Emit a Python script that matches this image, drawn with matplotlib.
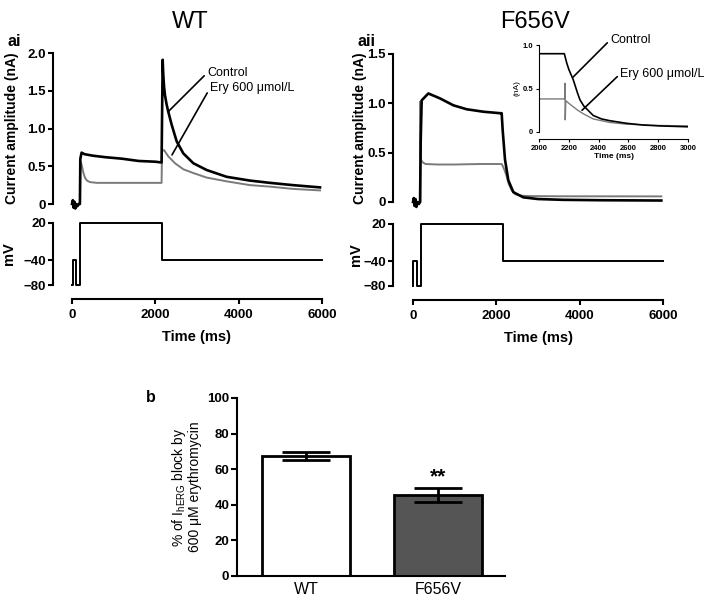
import matplotlib
matplotlib.use('Agg')
import matplotlib.pyplot as plt

plt.rcParams['font.family'] = ['Liberation Sans', 'DejaVu Sans']
plt.rcParams['axes.unicode_minus'] = True

# ---- data ----
# WT traces (time ms, current nA)
wt_ctrl_t = [0, 20, 40, 60, 80, 100, 130, 160, 190, 200, 230, 300, 500, 800, 1200, 1600, 2000, 2150,
             2176, 2190, 2210, 2232, 2270, 2312, 2392, 2512, 2672, 2912, 3232, 3712, 4272, 4752, 5300, 5952]
wt_ctrl_i = [0, 0.05, -0.05, 0.03, -0.06, 0.0, -0.03, 0, 0, 0.60, 0.68, 0.66, 0.64, 0.62, 0.60, 0.57, 0.56,
             0.55, 1.91, 1.72, 1.55, 1.44, 1.32, 1.22, 1.05, 0.83, 0.67, 0.54, 0.45, 0.36, 0.31, 0.28, 0.25,
             0.22]
wt_ery_t = [190, 200, 215, 240, 270, 310, 360, 430, 600, 1000, 1600, 2150, 2160, 2208, 2312, 2472, 2672,
            2912, 3232, 3712, 4272, 4752, 5300, 5952]
wt_ery_i = [0, 0.45, 0.55, 0.50, 0.42, 0.35, 0.31, 0.29, 0.28, 0.28, 0.28, 0.28, 0.70, 0.715, 0.63, 0.54,
            0.46, 0.41, 0.35, 0.30, 0.25, 0.23, 0.20, 0.18]

# F656V traces
mut_ctrl_t = [0, 20, 40, 60, 80, 110, 140, 170, 184, 208, 368, 648, 968, 1288, 1688, 2088, 2128, 2152,
              2208, 2288, 2408, 2648, 3000, 3600, 4500, 5960]
mut_ctrl_i = [0, 0.04, -0.04, 0.03, -0.05, 0.0, -0.02, 0, 0.60, 1.03, 1.10, 1.05, 0.98, 0.94, 0.915, 0.90,
              0.90, 0.73, 0.43, 0.22, 0.10, 0.047, 0.03, 0.022, 0.018, 0.015]
mut_ery_t = [175, 178, 185, 200, 240, 300, 600, 1000, 1600, 2128, 2160, 2200, 2248, 2300, 2368, 2450,
             2568, 2800, 3500, 5960]
mut_ery_i = [0, 1.02, 0.45, 0.42, 0.40, 0.385, 0.38, 0.38, 0.385, 0.385, 0.36, 0.32, 0.26, 0.18, 0.12,
             0.08, 0.065, 0.06, 0.058, 0.057]

# inset (F656V tail)
ins_ctrl_t = [2000, 2100, 2170, 2185, 2200, 2230, 2260, 2275, 2300, 2364, 2420, 2475, 2587, 2700, 2810, 3000]
ins_ctrl_i = [0.90, 0.90, 0.90, 0.80, 0.72, 0.60, 0.44, 0.37, 0.30, 0.19, 0.15, 0.13, 0.10, 0.08, 0.07, 0.06]
ins_ery_t = [2000, 2172, 2174, 2176, 2180, 2200, 2230, 2260, 2297, 2330, 2364, 2420, 2475, 2587, 2800, 3000]
ins_ery_i = [0.38, 0.38, 0.56, 0.14, 0.36, 0.33, 0.29, 0.25, 0.21, 0.18, 0.15, 0.13, 0.11, 0.09, 0.075, 0.07]

# voltage protocols (ms, mV)
wt_v_t = [0, 16, 16, 96, 96, 190, 190, 2170, 2170, 6000]
wt_v = [-80, -80, -40, -40, -80, -80, 20, 20, -40, -40]
mut_v_t = [0, 8, 8, 100, 100, 180, 180, 2150, 2150, 6000]
mut_v = [-80, -80, -40, -40, -80, -80, 20, 20, -40, -40]

# bar chart
groups = ['WT', 'F656V']
block = [67.4, 45.5]
block_err = [2.0, 4.0]
bar_colors = ['white', '#555555']

W, H = 709, 600
fig = plt.figure(figsize=(W / 100, H / 100), dpi=100)


def px_axes(x0, y0, x1, y1):
    return fig.add_axes([x0 / W, 1 - y1 / H, (x1 - x0) / W, (y1 - y0) / H])


def prism(ax, lw=1.5, tl=3.5, fs=9.5, pad=1.5):
    ax.spines['top'].set_visible(False)
    ax.spines['right'].set_visible(False)
    for s in ('left', 'bottom'):
        ax.spines[s].set_linewidth(lw)
    ax.tick_params(direction='out', length=tl, width=lw, labelsize=fs, pad=pad)
    for lab in ax.get_xticklabels() + ax.get_yticklabels():
        lab.set_fontweight('bold')
    ax.patch.set_visible(False)


def trace_panel(x0, spine_x, y_top, y_zero, v_top, v_bot, axis_y, ymax, yticks, yticklabels,
                ct, ci, et, ei, vt, vv, lab_x, mv_x):
    ax = px_axes(x0, y_top, x0 + 250, y_zero)
    ax.plot(et, ei, color='#7a7a7a', lw=1.4)
    ax.plot(ct, ci, color='black', lw=1.9)
    ax.set_xlim(0, 6000)
    ax.set_ylim(0, ymax)
    ax.set_yticks(yticks)
    ax.set_yticklabels(yticklabels)
    ax.spines['bottom'].set_visible(False)
    ax.set_xticks([])
    ax.spines['left'].set_position(('outward', (x0 - spine_x) * 0.72))
    prism(ax)
    ax.set_ylabel('Current amplitude (nA)', fontsize=10, fontweight='bold')
    ax.yaxis.set_label_coords(lab_x, 0.5)
    for line in ax.lines:
        line.set_clip_on(False)

    av = px_axes(x0, v_top, x0 + 250, v_bot)
    av.plot(vt, vv, color='black', lw=1.4)
    av.set_xlim(0, 6000)
    av.set_ylim(-80, 20)
    av.set_yticks([20, -40, -80])
    av.set_xticks([0, 2000, 4000, 6000])
    av.spines['left'].set_position(('outward', (x0 - spine_x) * 0.72))
    av.spines['bottom'].set_position(('outward', (axis_y - v_bot) * 0.72))
    prism(av, pad=4)
    av.tick_params(axis='y', pad=1.5)
    for line in av.lines:
        line.set_clip_on(False)
    av.set_xlabel('Time (ms)', fontsize=10.5, fontweight='bold', labelpad=6)
    av.set_ylabel('mV', fontsize=10.5, fontweight='bold')
    av.yaxis.set_label_coords(mv_x, 0.5)
    return ax, av


ax1, av1 = trace_panel(72, 53, 53, 204, 223, 285, 299, 2.0, [0, 0.5, 1.0, 1.5, 2.0],
                       ['0', '0.5', '1.0', '1.5', '2.0'],
                       wt_ctrl_t, wt_ctrl_i, wt_ery_t, wt_ery_i, wt_v_t, wt_v, -0.21, -0.225)
ax2, av2 = trace_panel(413, 393, 54, 202, 224, 286, 300, 1.5, [0, 0.5, 1.0, 1.5],
                       ['0', '0.5', '1.0', '1.5'],
                       mut_ctrl_t, mut_ctrl_i, mut_ery_t, mut_ery_i, mut_v_t, mut_v, -0.185, -0.2)

arrow = dict(arrowstyle='-', lw=1.2, color='black', shrinkA=0, shrinkB=0, relpos=(0, 0.5))
ax1.annotate('Control', xy=(2304, 1.22), xytext=(3240, 1.735), fontsize=9, ha='left', va='center',
             arrowprops=arrow)
ax1.annotate('Ery 600 μmol/L', xy=(2400, 0.65), xytext=(3312, 1.536), fontsize=9, ha='left',
             va='center', arrowprops=arrow)

# inset
ai = px_axes(539, 45, 688, 132)
ai.plot(ins_ery_t, ins_ery_i, color='#7a7a7a', lw=1.0)
ai.plot(ins_ctrl_t, ins_ctrl_i, color='black', lw=1.2)
ai.set_xlim(2000, 3000)
ai.set_ylim(0, 1.0)
ai.set_xticks([2000, 2200, 2400, 2600, 2800, 3000])
ai.set_yticks([0, 0.5, 1.0])
ai.set_yticklabels(['0', '0.5', '1.0'])
ai.spines['bottom'].set_position(('outward', 5))
prism(ai, lw=0.8, tl=2.5, fs=5.5)
ai.set_xlabel('Time (ms)', fontsize=6, fontweight='bold', labelpad=1)
ai.set_ylabel('(nA)', fontsize=6, labelpad=2)
ai.annotate('Control', xy=(2228, 0.63), xytext=(2477, 1.057), fontsize=9, ha='left', va='center',
            arrowprops=arrow, annotation_clip=False)
ai.annotate('Ery 600 μmol/L', xy=(2289, 0.25), xytext=(2544, 0.667), fontsize=9, ha='left',
            va='center', arrowprops=arrow, annotation_clip=False)

# bar chart
ab = px_axes(237, 398, 505, 576)
ab.bar(range(len(groups)), block, width=0.667, color=bar_colors, edgecolor='black', linewidth=2, zorder=2)
ab.errorbar(range(len(groups)), block, yerr=block_err, fmt='none', ecolor='black', elinewidth=2,
            capsize=17, capthick=2, zorder=3)
ab.text(1, block[1] + block_err[1] + 1.0, '**', ha='center', va='bottom', fontsize=15, fontweight='bold')
ab.set_xlim(-0.523, 1.51)
ab.set_ylim(0, 100)
ab.set_yticks(range(0, 101, 20))
ab.set_xticks(range(len(groups)))
ab.set_xticklabels(groups)
prism(ab, tl=4)
ab.tick_params(axis='x', length=0, labelsize=11.5, pad=4)
for lab in ab.get_xticklabels():
    lab.set_fontweight('normal')
ab.set_ylabel('% of I$_{\\mathregular{hERG}}$ block by\n600 μM erythromycin', fontsize=10,
              linespacing=1.0)
ab.yaxis.set_label_coords(-0.13, 0.5)

# titles and panel labels
fig.text(190 / W, 1 - 22 / H, 'WT', ha='center', va='center', fontsize=17)
fig.text(535 / W, 1 - 22 / H, 'F656V', ha='center', va='center', fontsize=17)
fig.text(8 / W, 1 - 42 / H, 'ai', ha='left', va='center', fontsize=11.5, fontweight='bold')
fig.text(358 / W, 1 - 42 / H, 'aii', ha='left', va='center', fontsize=11.5, fontweight='bold')
fig.text(146 / W, 1 - 398 / H, 'b', ha='left', va='center', fontsize=11.5, fontweight='bold')

fig.savefig('out.png', dpi=100)
